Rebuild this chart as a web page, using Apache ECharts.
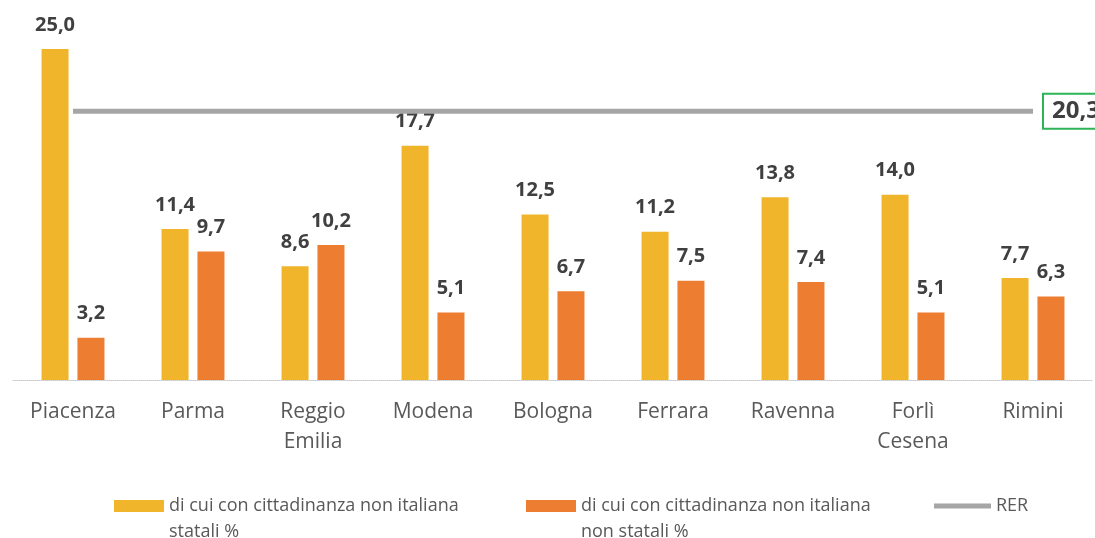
<!DOCTYPE html>
<html>
<head>
<meta charset="utf-8">
<script src="https://cdn.jsdelivr.net/npm/echarts@6/dist/echarts.min.js"></script>
<style>
  html, body { margin: 0; padding: 0; background: #fff; }
  #chart { width: 1095px; height: 538px; }
</style>
</head>
<body>
<div id="chart"></div>
<script>
// province
const categories = ['Piacenza', 'Parma', 'Reggio\nEmilia', 'Modena', 'Bologna', 'Ferrara', 'Ravenna', 'Forlì\nCesena', 'Rimini']
// percentuali
const statali = [25.0, 11.4, 8.6, 17.7, 12.5, 11.2, 13.8, 14.0, 7.7]
const nonStatali = [3.2, 9.7, 10.2, 5.1, 6.7, 7.5, 7.4, 5.1, 6.3]
const rer = [20.3, 20.3, 20.3, 20.3, 20.3, 20.3, 20.3, 20.3, 20.3]

const seriesNames = [
  'di cui con cittadinanza non italiana\nstatali %',
  'di cui con cittadinanza non italiana\nnon statali %',
  'RER'
]

const fontFamily = '"Open Sans", "Noto Sans", sans-serif'
const fmt = v => v.toFixed(1).replace('.', ',')

const barLabel = {
  show: true,
  position: 'top',
  distance: 14,
  color: '#404040',
  fontWeight: 'bold',
  fontSize: 20,
  fontFamily: fontFamily,
  formatter: p => fmt(p.value)
}

const legendText = {
  color: '#595959',
  fontSize: 18,
  fontFamily: fontFamily,
  lineHeight: 26
}

const chart = echarts.init(document.getElementById('chart'), null, { renderer: 'canvas' })
chart.setOption({
  animation: false,
  grid: { left: 13, right: 2, top: 49, bottom: 158 },
  legend: [
    {
      data: [seriesNames[0]], left: 114, top: 467, padding: 0,
      itemWidth: 50, itemHeight: 12, icon: 'rect', textStyle: legendText,
      // riga vuota in testa per allineare l'icona alla prima riga
      formatter: name => '\n' + name
    },
    {
      data: [seriesNames[1]], left: 526, top: 467, padding: 0,
      itemWidth: 50, itemHeight: 12, icon: 'rect', textStyle: legendText,
      formatter: name => '\n' + name
    },
    {
      data: [seriesNames[2]], left: 934, top: 493, padding: 0,
      itemWidth: 57, itemHeight: 5, icon: 'rect', textStyle: legendText,
      itemStyle: { color: '#a6a6a6' }
    }
  ],
  xAxis: {
    type: 'category',
    data: categories,
    axisTick: { show: false },
    axisLine: { lineStyle: { color: '#c8c8c8', type: 'dotted', width: 1 } },
    axisLabel: {
      color: '#595959',
      fontSize: 21,
      fontFamily: fontFamily,
      margin: 17,
      lineHeight: 30
    }
  },
  yAxis: {
    type: 'value',
    min: 0,
    max: 25,
    show: false,
    splitLine: { show: false }
  },
  series: [
    {
      name: seriesNames[0],
      type: 'bar',
      data: statali,
      barWidth: 27,
      barGap: '33%',
      itemStyle: { color: '#F0B52B' },
      label: barLabel
    },
    {
      name: seriesNames[1],
      type: 'bar',
      data: nonStatali,
      barWidth: 27,
      itemStyle: { color: '#ED7D31' },
      label: barLabel
    },
    {
      name: seriesNames[2],
      type: 'line',
      data: rer,
      symbol: 'none',
      lineStyle: { color: '#a6a6a6', width: 5 },
      itemStyle: { color: '#a6a6a6' },
      endLabel: {
        show: true,
        distance: 11,
        color: '#404040',
        fontWeight: 'bold',
        fontSize: 24,
        fontFamily: fontFamily,
        borderColor: '#2EB356',
        borderWidth: 2,
        backgroundColor: '#fff',
        padding: [5, 8, 4, 8],
        formatter: p => fmt(p.value)
      }
    }
  ]
})
</script>
</body>
</html>
